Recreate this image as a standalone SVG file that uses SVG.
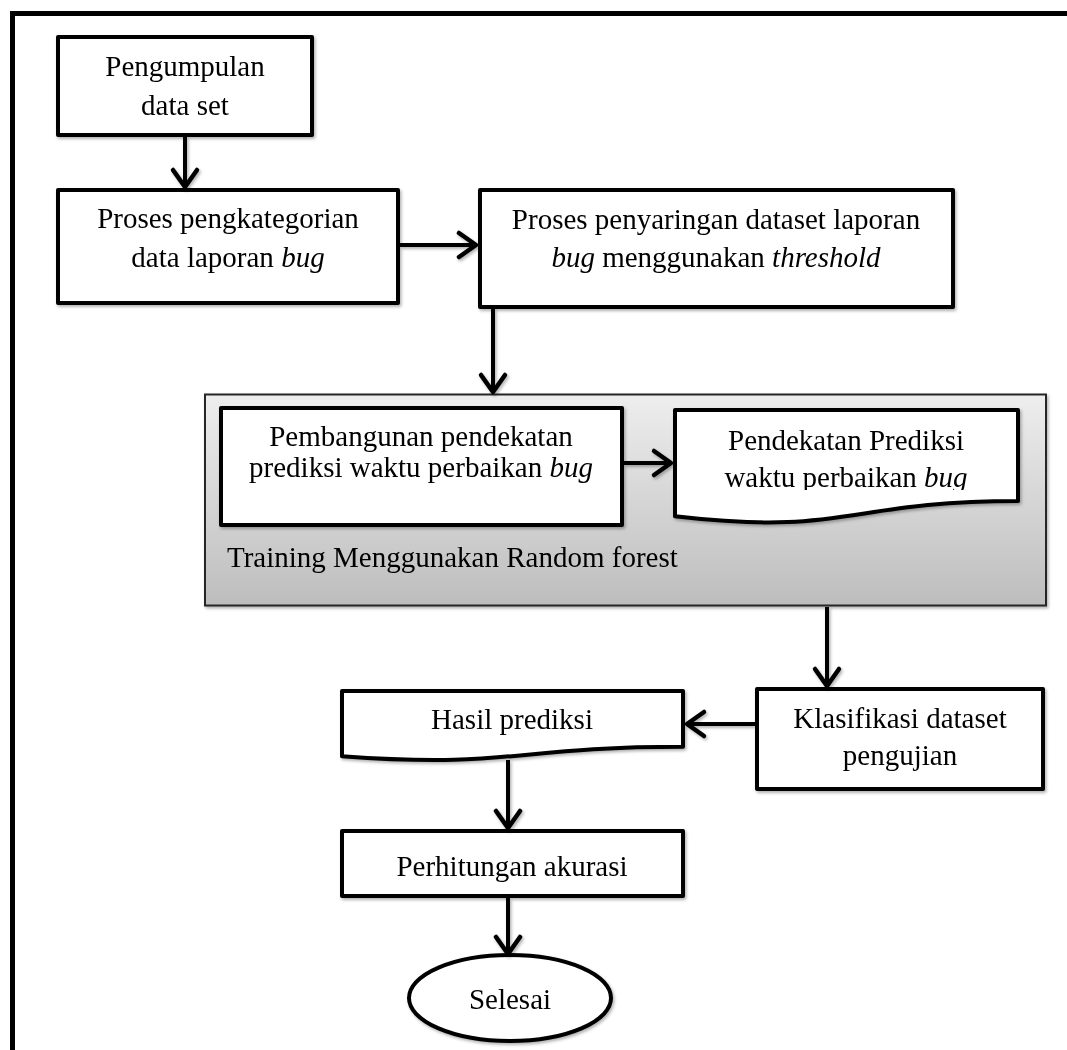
<svg xmlns="http://www.w3.org/2000/svg" width="1067" height="1050" viewBox="0 0 1067 1050">
<style>
.box{fill:#ffffff;stroke:#000000;stroke-width:4;stroke-linejoin:round}
.t{font-family:"Liberation Serif","Times New Roman",serif;font-size:29px;fill:#000000;text-anchor:middle}
.i{font-style:italic}
.con{stroke:#000000;stroke-width:4;fill:none}
</style>
<defs>
<linearGradient id="grp" x1="0" y1="0" x2="0" y2="1">
<stop offset="0" stop-color="#eeeeee"/>
<stop offset="1" stop-color="#bdbdbd"/>
</linearGradient>
<filter id="sh" x="-5%" y="-5%" width="115%" height="120%">
<feDropShadow dx="1.5" dy="2" stdDeviation="1.5" flood-color="#000000" flood-opacity="0.3"/>
</filter>
<marker id="arr" viewBox="-22 -16 26 32" markerWidth="26" markerHeight="32" refX="0" refY="0" orient="auto" markerUnits="userSpaceOnUse">
<path d="M-17,-12 L0,0 L-17,12" fill="none" stroke="#000000" stroke-width="4.5" stroke-linecap="round" stroke-linejoin="round"/>
</marker>
<clipPath id="docclip"><rect x="673" y="408" width="347" height="82"/></clipPath>
</defs>
<rect x="0" y="0" width="1067" height="1050" fill="#ffffff"/>
<rect id="frame" x="12.5" y="13.5" width="1200" height="1200" fill="none" stroke="#000000" stroke-width="5"/>

<g id="n1" filter="url(#sh)">
<rect class="box" x="58" y="37" width="254" height="98"/>
<text class="t" x="185" y="76">Pengumpulan</text>
<text class="t" x="185" y="115">data set</text>
</g>

<g id="n2" filter="url(#sh)">
<rect class="box" x="58" y="190" width="340" height="113"/>
<text class="t" x="228" y="228">Proses pengkategorian</text>
<text class="t" x="228" y="267">data laporan <tspan class="i">bug</tspan></text>
</g>

<g id="n3" filter="url(#sh)">
<rect class="box" x="480" y="190" width="473" height="117"/>
<text class="t" x="716" y="229">Proses penyaringan dataset laporan</text>
<text class="t" x="716" y="267"><tspan class="i">bug</tspan> menggunakan <tspan class="i">threshold</tspan></text>
</g>

<g id="group" filter="url(#sh)">
<rect x="205" y="394.5" width="841" height="211" fill="url(#grp)" stroke="#262626" stroke-width="2"/>
<text x="227" y="567" font-family="Liberation Serif, Times New Roman, serif" font-size="29" fill="#000000">Training Menggunakan Random forest</text>
</g>

<g id="n4" filter="url(#sh)">
<rect class="box" x="221" y="408" width="401" height="117"/>
<text class="t" x="421" y="446">Pembangunan pendekatan</text>
<text class="t" x="421" y="477">prediksi waktu perbaikan <tspan class="i">bug</tspan></text>
</g>

<g id="n5" filter="url(#sh)">
<path class="box" d="M675,410 H1018 V501 C846.5,501 846.5,536.4 675,516.3 Z"/>
<g clip-path="url(#docclip)">
<text class="t" x="846" y="450">Pendekatan Prediksi</text>
<text class="t" x="846" y="487">waktu perbaikan <tspan class="i">bug</tspan></text>
</g>
</g>

<g id="n6" filter="url(#sh)">
<rect class="box" x="757" y="689" width="286" height="100"/>
<text class="t" x="900" y="728">Klasifikasi dataset</text>
<text class="t" x="900" y="765">pengujian</text>
</g>

<g id="n7" filter="url(#sh)">
<path class="box" d="M342,691 H683 V746.7 C512.5,746.7 512.5,768.7 342,756.2 Z"/>
<text class="t" x="512" y="729">Hasil prediksi</text>
</g>

<g id="n8" filter="url(#sh)">
<rect class="box" x="342" y="831" width="341" height="65"/>
<text class="t" x="512" y="876">Perhitungan akurasi</text>
</g>

<g id="n9" filter="url(#sh)">
<ellipse class="box" cx="510" cy="998" rx="101" ry="43"/>
<text class="t" x="510" y="1009">Selesai</text>
</g>

<g id="connectors" filter="url(#sh)">
<line class="con" x1="185" y1="137" x2="185" y2="187" marker-end="url(#arr)"/>
<line class="con" x1="400" y1="245" x2="476" y2="245" marker-end="url(#arr)"/>
<line class="con" x1="493" y1="309" x2="493" y2="392" marker-end="url(#arr)"/>
<line class="con" x1="624" y1="463" x2="671" y2="463" marker-end="url(#arr)"/>
<line class="con" x1="827" y1="607" x2="827" y2="686" marker-end="url(#arr)"/>
<line class="con" x1="755" y1="724" x2="687" y2="724" marker-end="url(#arr)"/>
<line class="con" x1="508" y1="760" x2="508" y2="828" marker-end="url(#arr)"/>
<line class="con" x1="508" y1="898" x2="508" y2="954" marker-end="url(#arr)"/>
</g>
</svg>
